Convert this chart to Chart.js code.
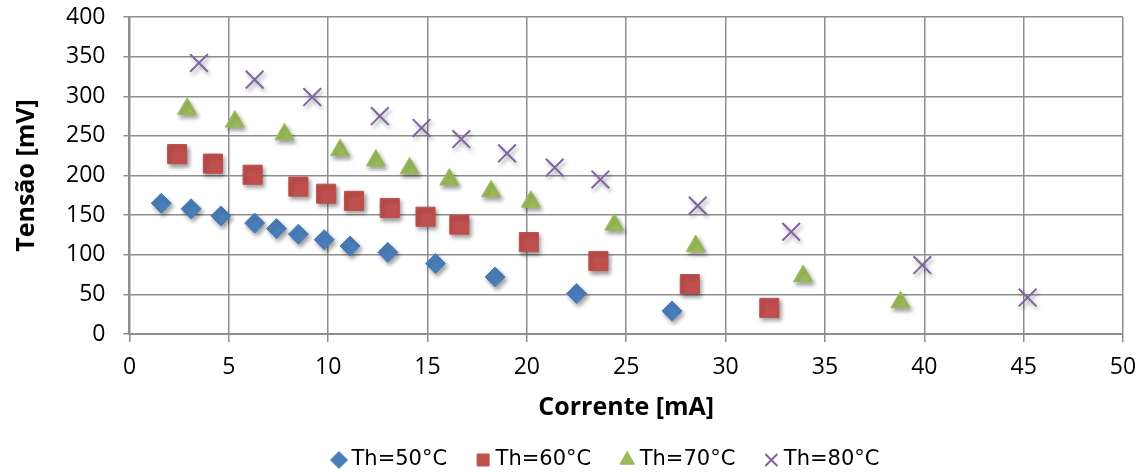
<!DOCTYPE html>
<html>
<head>
<meta charset="utf-8">
<script src="https://cdn.jsdelivr.net/npm/chart.js@4/dist/chart.umd.min.js"></script>
<style>
html,body{margin:0;padding:0;background:#fff;}
#wrap{width:1143px;height:473px;position:relative;}
</style>
</head>
<body>
<div id="wrap"><canvas id="c" width="1143" height="473"></canvas></div>
<script>
// Series data (x = Corrente [mA], y = Tensão [mV])
const seriesNames = ['Th=50°C', 'Th=60°C', 'Th=70°C', 'Th=80°C'];

const x50 = [1.6, 3.1, 4.6, 6.3, 7.4, 8.5, 9.8, 11.1, 13.0, 15.4, 18.4, 22.5, 27.3];
const y50 = [165, 158, 149, 140, 133, 126, 119, 111, 103, 89, 72, 51, 29];

const x60 = [2.4, 4.2, 6.2, 8.5, 9.9, 11.3, 13.1, 14.9, 16.6, 20.1, 23.6, 28.2, 32.2];
const y60 = [227, 215, 201, 186, 177, 168, 159, 148, 138, 116, 92, 63, 33];

const x70 = [2.9, 5.3, 7.8, 10.6, 12.4, 14.1, 16.1, 18.2, 20.2, 24.4, 28.5, 33.9, 38.8];
const y70 = [284, 268, 252, 232, 219, 209, 195, 180, 167, 138, 111, 73, 40];

const x80 = [3.5, 6.3, 9.2, 12.6, 14.7, 16.7, 19.0, 21.4, 23.7, 28.6, 33.3, 39.9, 45.2];
const y80 = [342, 321, 299, 275, 260, 246, 228, 210, 195, 162, 129, 87, 46];

const xTicks = [0, 5, 10, 15, 20, 25, 30, 35, 40, 45, 50];
const yTicks = [0, 50, 100, 150, 200, 250, 300, 350, 400];

const toPts = (xs, ys) => xs.map((x, i) => ({x: x, y: ys[i]}));

const shadowPlugin = {
  id: 'markerShadow',
  beforeDatasetsDraw(chart) {
    const c = chart.ctx;
    c.save();
    c.shadowColor = 'rgba(0,0,0,0.38)';
    c.shadowBlur = 4;
    c.shadowOffsetX = 2;
    c.shadowOffsetY = 3;
  },
  afterDatasetsDraw(chart) {
    chart.ctx.restore();
  }
};

// nudge the legend block slightly left, as in the original layout
const legendShift = {
  id: 'legendShift',
  afterLayout(chart) {
    if (chart.legend) { chart.legend.left -= 36; }
  }
};

const gridColor = '#8e8e8e';
const tickFont = {family: 'Open Sans', size: 23};
const titleFont = {family: 'Open Sans', size: 25, weight: 'bold'};

new Chart(document.getElementById('c'), {
  type: 'scatter',
  data: {
    datasets: [
      {label: seriesNames[0], data: toPts(x50, y50), pointStyle: 'rectRot', pointRadius: 10, pointHoverRadius: 10,
       backgroundColor: '#4a7ebb', borderColor: '#4a7ebb', borderWidth: 1},
      {label: seriesNames[1], data: toPts(x60, y60), pointStyle: 'rect', pointRadius: 13.5, pointHoverRadius: 13.5,
       backgroundColor: '#c0504d', borderColor: '#c0504d', borderWidth: 1},
      {label: seriesNames[2], data: toPts(x70, y70), pointStyle: 'triangle', pointRadius: 11, pointHoverRadius: 11,
       backgroundColor: '#9bbb59', borderColor: '#9bbb59', borderWidth: 1},
      {label: seriesNames[3], data: toPts(x80, y80), pointStyle: 'crossRot', pointRadius: 12.5, pointHoverRadius: 12.5,
       backgroundColor: '#8064a2', borderColor: '#8064a2', borderWidth: 2}
    ]
  },
  options: {
    responsive: false,
    animation: false,
    events: [],
    layout: {autoPadding: false, padding: {left: 0, right: 20, top: 17, bottom: -7.5}},
    plugins: {
      tooltip: {enabled: false},
      legend: {
        position: 'bottom',
        fullSize: false,
        labels: {
          usePointStyle: true,
          boxWidth: 4,
          boxHeight: 12,
          padding: 34,
          color: '#000',
          font: {family: 'DejaVu Sans', size: 21}
        }
      }
    },
    scales: {
      x: {
        type: 'linear',
        min: 0, max: 50,
        afterBuildTicks: (axis) => { axis.ticks = xTicks.map(v => ({value: v})); },
        ticks: {font: tickFont, color: '#000', padding: 0, maxRotation: 0},
        grid: {color: gridColor, lineWidth: 1.5, tickLength: 20, drawTicks: true, tickBorderDash: [7, 40]},
        border: {color: gridColor, width: 2},
        title: {display: true, text: 'Corrente [mA]', font: titleFont, color: '#000', padding: {top: 11.4, bottom: -7.5}}
      },
      y: {
        type: 'linear',
        min: 0, max: 400,
        afterBuildTicks: (axis) => { axis.ticks = yTicks.map(v => ({value: v})); },
        ticks: {font: tickFont, color: '#000', padding: 0},
        grid: {color: gridColor, lineWidth: 1.5, tickLength: 24, drawTicks: true, tickBorderDash: [0, 18, 8, 0]},
        border: {color: gridColor, width: 2},
        title: {display: true, text: 'Tensão [mV]', font: titleFont, color: '#000', padding: {top: 12, bottom: 24}}
      }
    }
  },
  plugins: [shadowPlugin, legendShift]
});
</script>
</body>
</html>
